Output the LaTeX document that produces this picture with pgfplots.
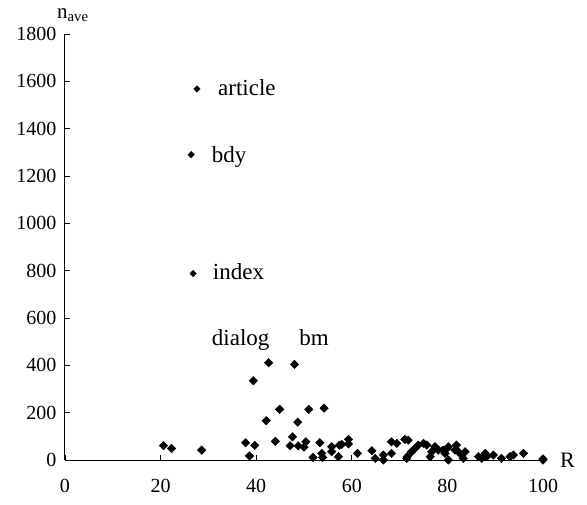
\documentclass[border=0pt]{standalone}
\usepackage{fontspec}
\setmainfont{Liberation Serif}
\usepackage{pgfplots}
\pgfplotsset{compat=1.18}
\begin{document}
\begin{tikzpicture}
\useasboundingbox (-65pt,-44pt) rectangle (522pt,460pt);
\begin{axis}[
 scale only axis, width=478pt, height=426pt,
 xmin=0,xmax=100,ymin=0,ymax=1800,
 axis lines*=left,
 axis line style={line width=1pt},
 tick align=inside,
 major tick length=5pt,
 tick style={black, line width=0.8pt},
 xtick={0,20,...,100}, ytick={0,200,...,1800},
 /pgf/number format/assume math mode=true,
 /pgf/number format/1000 sep={},
 tick label style={font=\fontsize{20}{20}\selectfont},
 xticklabel style={yshift=-16pt},
 yticklabel style={xshift=-5pt},
 clip=false,
]
\addplot[only marks, mark=square*, mark size=2.3pt, mark options={rotate=45, fill=black, draw=black}] coordinates {
(27.6,1568) (26.4,1290) (26.8,788)
};
\addplot[only marks, mark=square*, mark size=3pt, mark options={rotate=45, fill=black, draw=black}] coordinates {
(20.6,61) (22.3,49) (28.6,42)
(37.8,73) (38.6,17) (39.7,62) (39.4,335) (42.1,166) (42.6,411) (44.0,79) (44.9,214)
(47.1,60) (47.6,98) (48.0,404) (48.7,160) (48.8,60) (50.0,54) (50.4,77) (51.0,214)
(51.9,11) (53.3,73) (53.7,28) (53.9,11) (54.2,219) (55.8,56) (55.8,35) (57.2,14)
(57.4,62) (57.9,66) (59.3,87) (59.3,68) (61.2,28) (64.2,39) (64.9,7) (66.6,21)
(66.6,0) (68.3,28) (68.3,77) (69.4,70) (71.1,87) (71.8,84) (71.5,7)
(71.6,14) (72.5,35) (73.2,49) (73.9,63) (75.0,70) (75.7,63) (76.4,14) (76.7,35)
(77.4,56) (78.1,42) (79.5,28) (80.2,56)
(79.1,42) (79.9,49) (80.2,0) (81.6,42) (81.9,63) (82.3,35) (83.0,21) (83.3,7)
(83.7,35) (86.5,14) (87.2,7) (87.9,28) (88.2,14) (89.6,21) (91.3,7) (93.1,14)
(93.8,21) (95.9,28) (100,0) (100,5)
};
\node[anchor=base west, font=\fontsize{23}{23}\selectfont, inner sep=0pt] at (axis cs:32.0,1540) {article};
\node[anchor=base west, font=\fontsize{23}{23}\selectfont, inner sep=0pt] at (axis cs:30.7,1259) {bdy};
\node[anchor=base west, font=\fontsize{23}{23}\selectfont, inner sep=0pt] at (axis cs:30.9,762) {index};
\node[anchor=base west, font=\fontsize{23}{23}\selectfont, inner sep=0pt] at (axis cs:30.7,485) {dialog};
\node[anchor=base west, font=\fontsize{23}{23}\selectfont, inner sep=0pt] at (axis cs:49.0,485) {bm};
\node[anchor=base west, font=\fontsize{22}{22}\selectfont, inner sep=0pt] at (axis cs:100,0) [xshift=17pt, yshift=-7pt] {R};
\node[anchor=base west, font=\fontsize{21}{21}\selectfont, inner sep=0pt] at (axis cs:0,1800) [xshift=-8pt, yshift=16pt] {n\textsubscript{ave}};
\end{axis}
\end{tikzpicture}
\end{document}
